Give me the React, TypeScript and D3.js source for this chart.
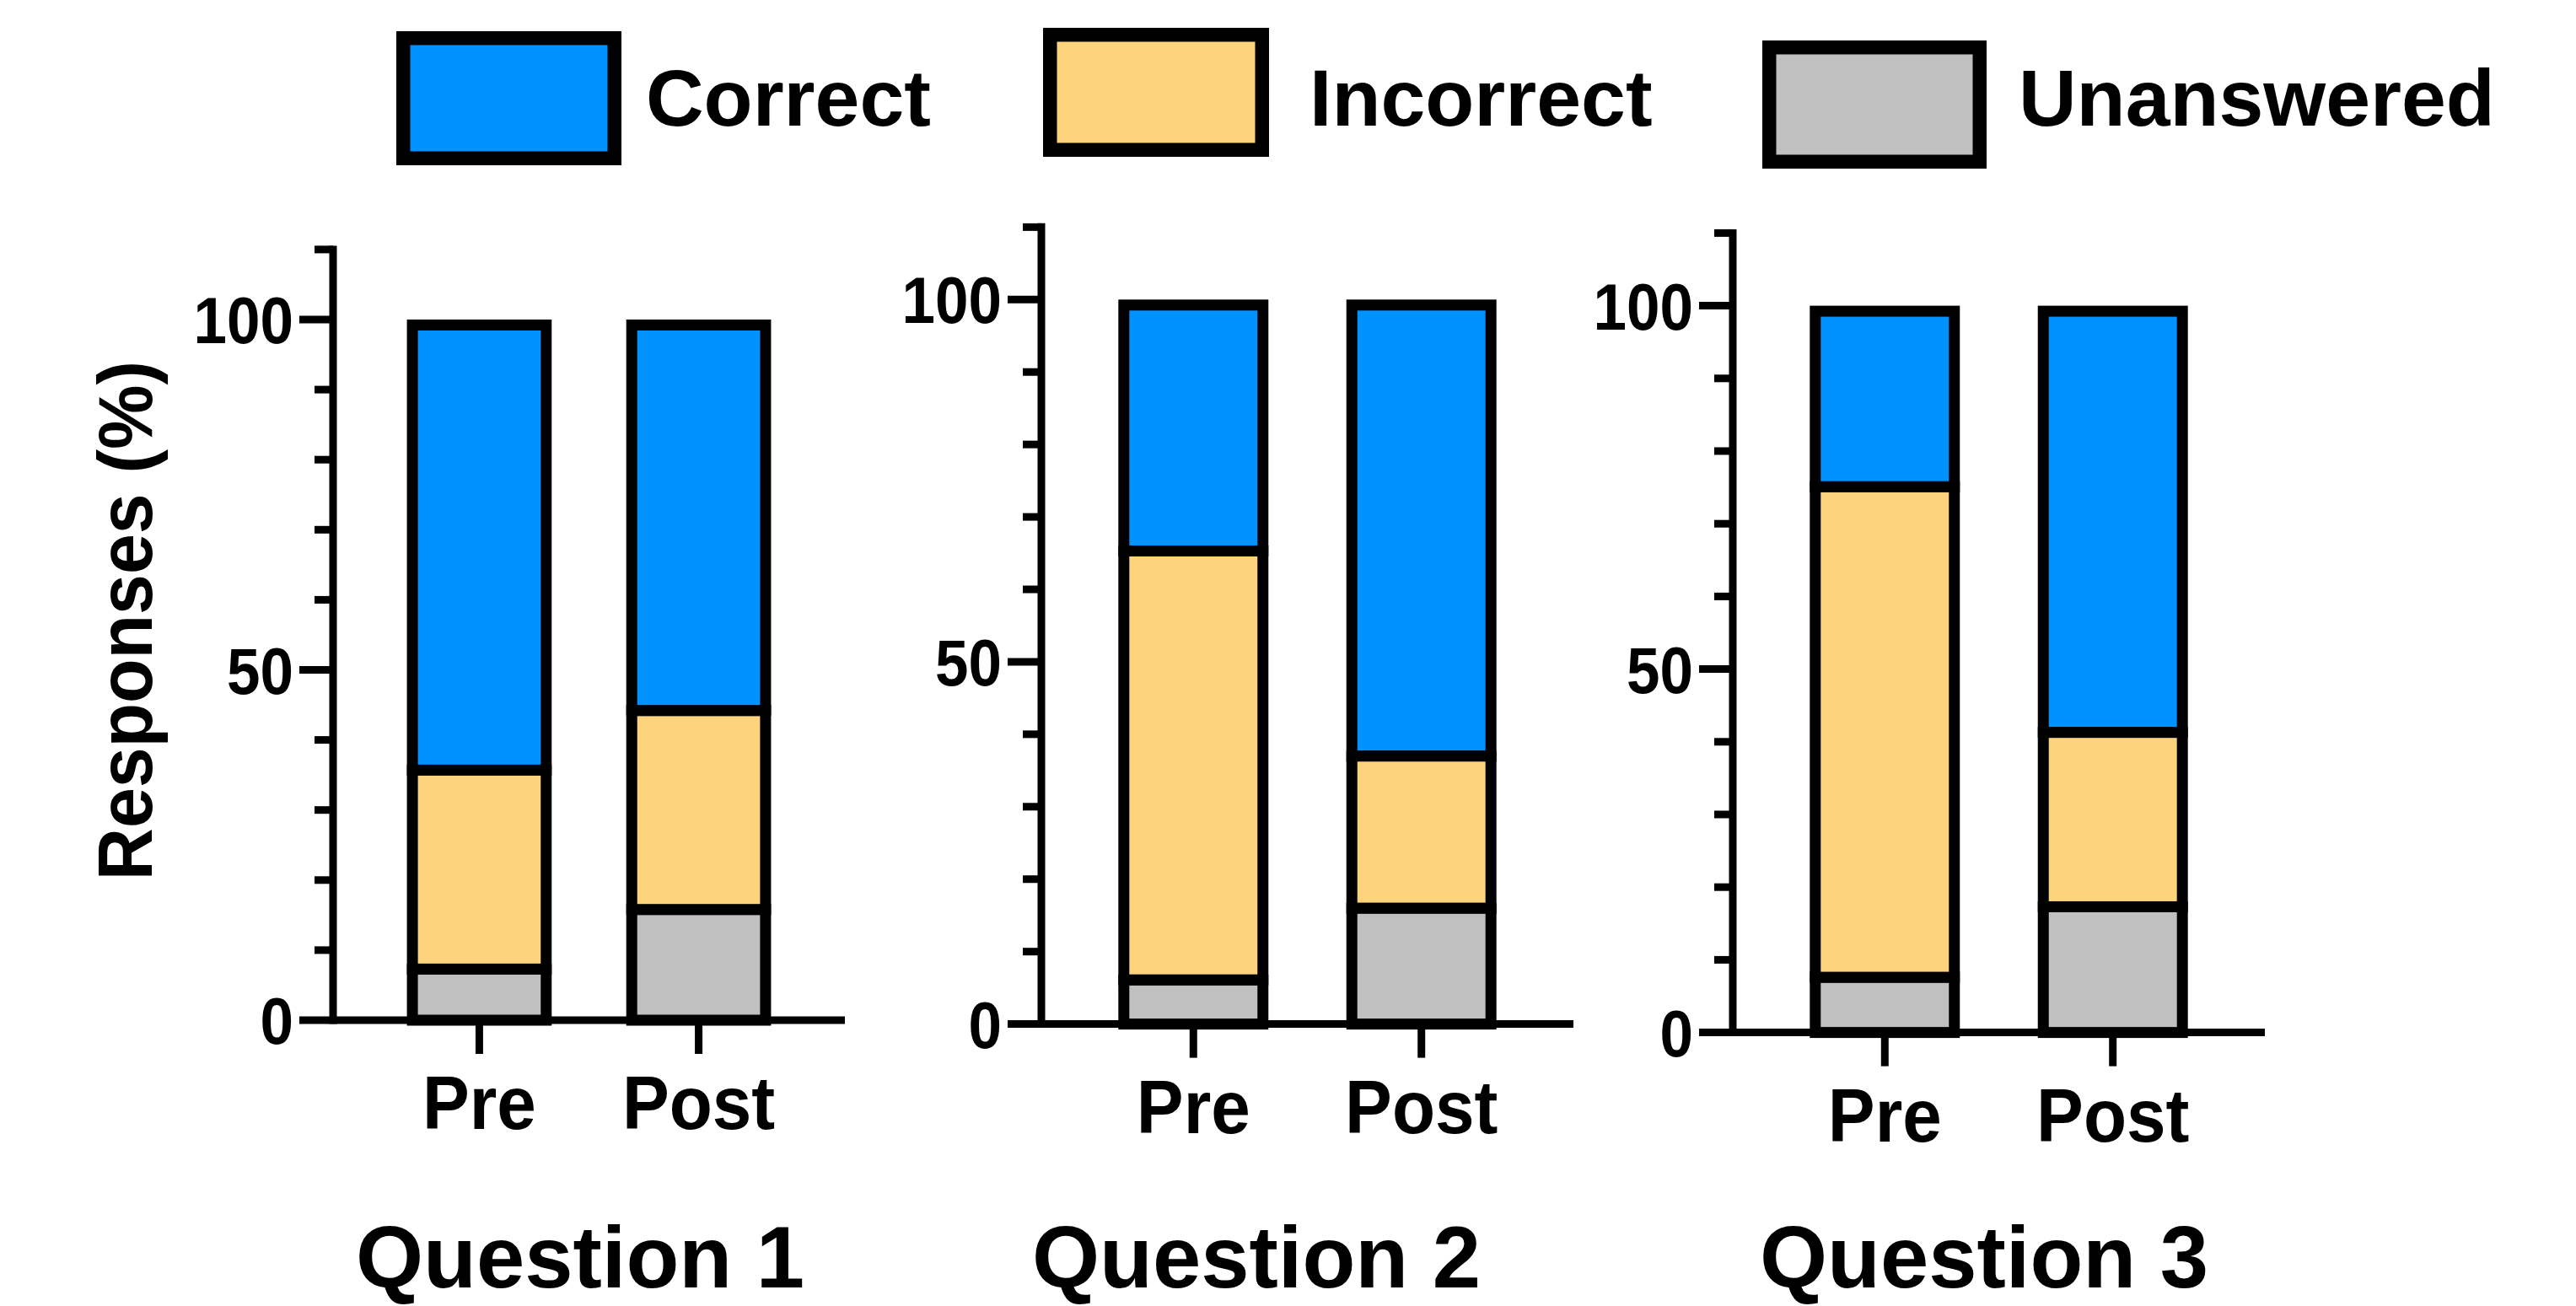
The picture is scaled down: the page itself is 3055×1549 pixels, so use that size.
import React from "react";
import * as d3 from "d3";

// ---- data ----
const categories = ["Pre", "Post"];
const seriesNames = ["Unanswered", "Incorrect", "Correct"];
const panelTitles = ["Question 1", "Question 2", "Question 3"];
// values per panel, per category: [Unanswered, Incorrect, Correct] (%)
const q1Values = [
  [7.3, 28.4, 64.3],
  [15.8, 28.4, 55.8],
];
const q2Values = [
  [6.1, 59.2, 34.7],
  [16.0, 21.0, 63.0],
];
const q3Values = [
  [7.6, 67.5, 24.9],
  [17.3, 24.0, 58.7],
];
const panelValues = [q1Values, q2Values, q3Values];
const yTicksMajor = [0, 50, 100];
const yTicksMinor = [10, 20, 30, 40, 60, 70, 80, 90, 110];
const legendOrder = ["Correct", "Incorrect", "Unanswered"];

// ---- styles / layout ----
const colors: Record<string, string> = {
  Correct: "#0092FF",
  Incorrect: "#FDD47B",
  Unanswered: "#C0C0C0",
};
const FONT = "'Liberation Sans', Arial, Helvetica, sans-serif";
const panelsLayout = [
  { x0: 395, x1: 1002, y0: 1210, y100: 379, titleX: 688 },
  { x0: 1235, x1: 1866, y0: 1214.6, y100: 355.3, titleX: 1490 },
  { x0: 2055, x1: 2686, y0: 1224.6, y100: 362.6, titleX: 2353 },
];
const legendLayout = [
  { x: 470, y: 37, w: 267, h: 159, tx: 766 },
  { x: 1237, y: 33, w: 268, h: 153, tx: 1553 },
  { x: 2090, y: 48, w: 266, h: 152, tx: 2394 },
];
const BAR_SW = 13;
const AXIS_SW = 9;
const LEG_SW = 16.5;

function Txt({
  x,
  y,
  size,
  sx = 1,
  rot = 0,
  anchor = "start",
  dy,
  children,
}: {
  x: number;
  y: number;
  size: number;
  sx?: number;
  rot?: number;
  anchor?: string;
  dy?: string;
  children: React.ReactNode;
}) {
  return (
    <text
      transform={`translate(${x},${y}) rotate(${rot}) scale(${sx},1)`}
      textAnchor={anchor}
      dy={dy}
      fontFamily={FONT}
      fontWeight="bold"
      fontSize={size}
      fill="#000"
    >
      {children}
    </text>
  );
}

function Panel({ idx }: { idx: number }) {
  const L = panelsLayout[idx];
  const vals = panelValues[idx];
  const y = d3
    .scaleLinear()
    .domain([0, 110])
    .range([L.y0, L.y0 - 1.1 * (L.y0 - L.y100)]);
  const x = d3.scalePoint<string>().domain(categories).range([L.x0, L.x1]).padding(2 / 3);
  const step = x.step();
  const bw = step * 0.61;
  const stack = d3
    .stack<number[]>()
    .keys(seriesNames.map((_, i) => String(i)))
    .value((d, k) => d[+k]);
  const stacked = stack(vals as any);

  return (
    <g>
      {categories.map((cat, ci) => {
        const cx = x(cat)!;
        return (
          <g key={cat}>
            {stacked.map((layer, si) => {
              const [lo, hi] = layer[ci];
              const isTop = si === stacked.length - 1;
              const yTop = isTop ? y(hi) + BAR_SW / 2 : y(hi);
              const yBot = y(lo);
              return (
                <rect
                  key={si}
                  x={cx - bw / 2}
                  y={yTop}
                  width={bw}
                  height={yBot - yTop}
                  fill={colors[seriesNames[si]]}
                  stroke="#000"
                  strokeWidth={BAR_SW}
                />
              );
            })}
          </g>
        );
      })}
      <line
        x1={L.x0}
        x2={L.x0}
        y1={y(110) - AXIS_SW / 2}
        y2={L.y0 + AXIS_SW / 2}
        stroke="#000"
        strokeWidth={AXIS_SW}
      />
      {yTicksMinor.map((t) => (
        <line key={"m" + t} x1={L.x0 - 22} x2={L.x0} y1={y(t)} y2={y(t)} stroke="#000" strokeWidth={AXIS_SW} />
      ))}
      {yTicksMajor.map((t) => (
        <g key={"M" + t}>
          <line x1={L.x0 - 40} x2={L.x0} y1={y(t)} y2={y(t)} stroke="#000" strokeWidth={AXIS_SW} />
          <Txt x={L.x0 - 47} y={y(t)} dy="0.36em" anchor="end" size={78} sx={0.91}>
            {t}
          </Txt>
        </g>
      ))}
      <line x1={L.x0} x2={L.x1} y1={L.y0} y2={L.y0} stroke="#000" strokeWidth={AXIS_SW} />
      {categories.map((cat) => (
        <g key={"xt" + cat}>
          <line x1={x(cat)!} x2={x(cat)!} y1={L.y0} y2={L.y0 + 40} stroke="#000" strokeWidth={AXIS_SW} />
          <Txt x={x(cat)!} y={L.y0 + 129} anchor="middle" size={89} sx={0.94}>
            {cat}
          </Txt>
        </g>
      ))}
      <Txt x={L.titleX} y={1527} anchor="middle" size={103}>
        {panelTitles[idx]}
      </Txt>
    </g>
  );
}

export default function App() {
  return (
    <svg
      width={3055}
      height={1549}
      style={{ position: "absolute", left: 0, top: 0, background: "#fff" }}
    >
      <rect x={0} y={0} width={3055} height={1549} fill="#fff" />
      {legendOrder.map((name, i) => {
        const g = legendLayout[i];
        return (
          <g key={name}>
            <rect
              x={g.x + LEG_SW / 2}
              y={g.y + LEG_SW / 2}
              width={g.w - LEG_SW}
              height={g.h - LEG_SW}
              fill={colors[name]}
              stroke="#000"
              strokeWidth={LEG_SW}
            />
            <Txt x={g.tx} y={149} size={95}>
              {name}
            </Txt>
          </g>
        );
      })}
      <Txt x={180} y={736} rot={-90} anchor="middle" size={91} sx={0.945}>
        Responses (%)
      </Txt>
      {panelValues.map((_, i) => (
        <Panel key={i} idx={i} />
      ))}
    </svg>
  );
}
